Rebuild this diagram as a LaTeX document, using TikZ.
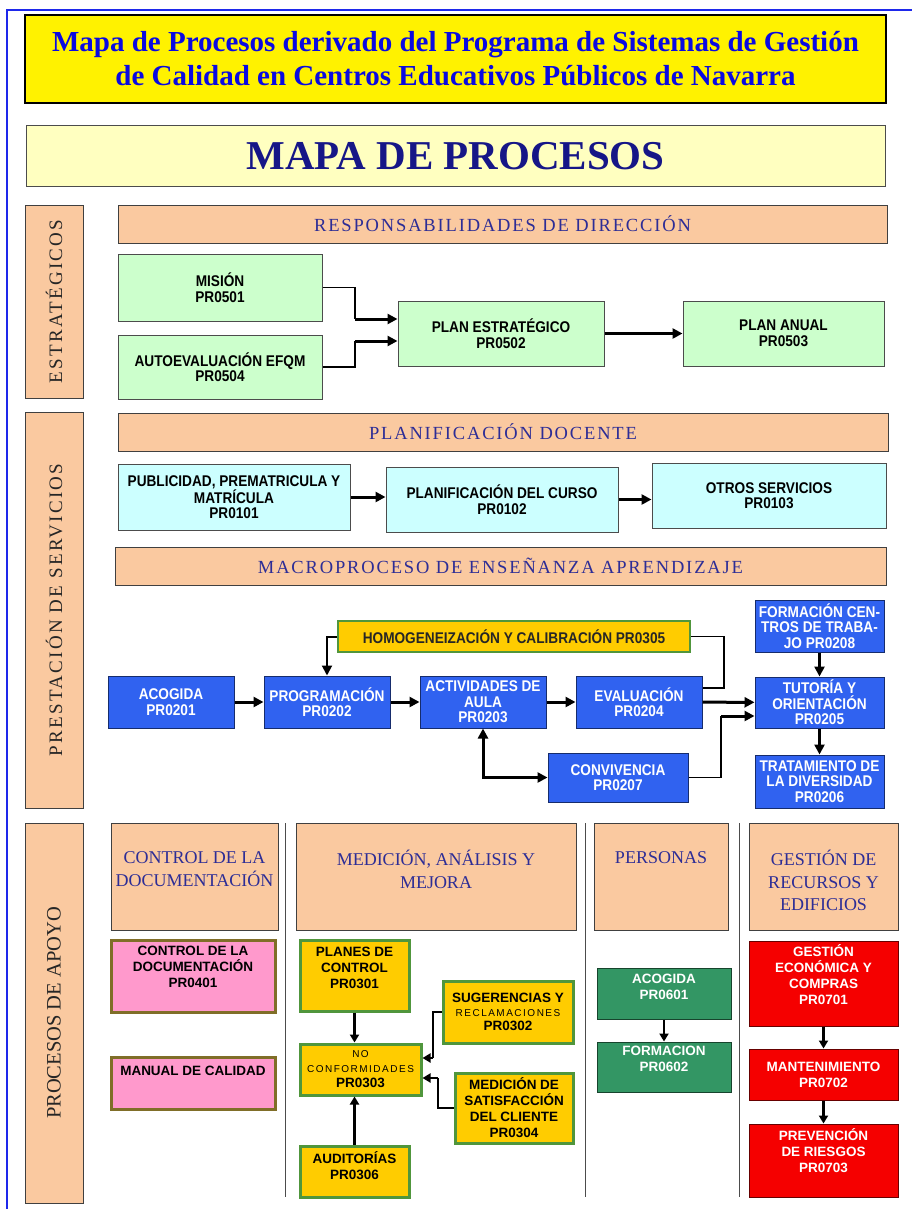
\documentclass[tikz,border=0pt]{standalone}
\usepackage{fontspec}
\setmainfont{Liberation Serif}
\newfontfamily\boxfont[FakeStretch=0.88]{Liberation Sans}
\newfontfamily\lowfont{Liberation Sans}
\usetikzlibrary{arrows.meta}

\definecolor{frameblue}{RGB}{30,40,235}
\definecolor{titleblue}{RGB}{10,10,225}
\definecolor{navy}{RGB}{22,22,135}
\definecolor{bandtext}{RGB}{45,45,150}
\definecolor{peachfill}{RGB}{250,201,160}
\definecolor{lightyel}{RGB}{255,255,192}
\definecolor{lgreen}{RGB}{204,255,204}
\definecolor{lcyan}{RGB}{204,255,255}
\definecolor{procblue}{RGB}{48,98,240}
\definecolor{gold}{RGB}{255,204,0}
\definecolor{goldedge}{RGB}{80,150,60}
\definecolor{pinkfill}{RGB}{255,153,204}
\definecolor{pinkedge}{RGB}{128,110,40}
\definecolor{teamgreen}{RGB}{51,150,100}
\definecolor{redfill}{RGB}{245,0,0}

\newcommand{\litetxt}[1]{{\lowfont\mdseries\fontsize{10}{12}\selectfont\addfontfeature{LetterSpace=15}#1}}

\begin{document}
\begin{tikzpicture}[x=1pt, y=-1pt,
	sz/.style 2 args={minimum width=#1pt, minimum height=#2pt},
	box/.style={draw, inner sep=0pt, align=center, line width=1pt},
	peach/.style={box, fill=peachfill, draw=black!75},
	band/.style={peach, text=bandtext, font={\fontsize{18.5}{20}\selectfont\addfontfeature{LetterSpace=10}}},
	side/.style={peach, rotate=90, text=black!85},
	head/.style={text=bandtext, align=center, inner sep=0pt, font={\fontsize{18}{22.5}\selectfont}},
	narrow/.style={font={\boxfont\bfseries\fontsize{15.5}{15.5}\selectfont}},
	wide/.style={font={\lowfont\bfseries\fontsize{13.5}{16}\selectfont}},
	inbox/.style={wide, align=center, inner sep=0pt},
	greenbox/.style={box, narrow, fill=lgreen, draw=black!70},
	cyanbox/.style={box, narrow, fill=lcyan, draw=black!70},
	bluebox/.style={box, narrow, fill=procblue, draw=procblue!45!black, text=white},
	goldbox/.style={box, wide, fill=gold, draw=goldedge, line width=3pt},
	pinkbox/.style={box, fill=pinkfill, draw=pinkedge, line width=3pt},
	teambox/.style={box, wide, fill=teamgreen, draw=teamgreen!45!black, text=white},
	redbox/.style={box, wide, fill=redfill, draw=red!40!black, text=white},
	wire/.style={line width=1.2pt},
	thk/.style={line width=3pt, -{Triangle[length=10pt,width=10pt]}},
	med/.style={line width=2.2pt, -{Triangle[length=8pt,width=9pt]}},
	]
	\useasboundingbox (0,0) rectangle (912,1209);
	\draw[frameblue, line width=2pt] (7,10) rectangle (930,1230);

	\node[draw, line width=2pt, fill=yellow, sz={861}{88}, align=center, text=titleblue, font={\bfseries\fontsize{29}{34}\selectfont}] (title) at (455.5,59)
		{Mapa de Procesos derivado del Programa de Sistemas de Gestión\\de Calidad en Centros Educativos Públicos de Navarra};
	\node[box, fill=lightyel, draw=black!70, sz={859}{61}, text=navy, font={\bfseries\fontsize{41}{44}\selectfont}] (mapa) at (455.5,156.5) {MAPA DE PROCESOS};

	\node[side, sz={193}{58}, font={\fontsize{19}{20}\selectfont\addfontfeature{LetterSpace=12}}] (estr) at (54,301.5) {ESTRATÉGICOS};
	\node[side, sz={396}{58}, font={\fontsize{19}{20}\selectfont\addfontfeature{LetterSpace=12}}] (presta) at (54,610) {PRESTACIÓN DE SERVICIOS};
	\node[side, sz={380}{58}, font={\fontsize{20.5}{22}\selectfont}] (apoyo) at (54,1013) {PROCESOS DE APOYO};

	\node[band, sz={769}{38}] (resp) at (502.5,224) {RESPONSABILIDADES DE DIRECCIÓN};
	\node[band, sz={770}{38}] (docente) at (503,432) {PLANIFICACIÓN DOCENTE};
	\node[band, sz={771}{38}] (macro) at (500.5,566) {MACROPROCESO DE ENSEÑANZA APRENDIZAJE};

	\node[greenbox, sz={204}{67}] (mision) at (220,287.5) {MISIÓN\\PR0501};
	\node[greenbox, sz={204}{64}] (autoev) at (220,367) {AUTOEVALUACIÓN EFQM\\PR0504};
	\node[greenbox, sz={206}{65}] (plan) at (501,333.5) {PLAN ESTRATÉGICO\\PR0502};
	\node[greenbox, sz={201}{65}] (anual) at (783.5,333.5) {PLAN ANUAL\\PR0503};
	\path (355,319) coordinate (m) (355,341) coordinate (a);
	\draw[wire] (mision.east) -| (m);
	\draw[wire] (autoev.east) -| (a);
	\draw[thk] (m) -- (m -| plan.west);
	\draw[thk] (a) -- (a -| plan.west);
	\draw[thk] (plan) -- (anual);

	\node[cyanbox, sz={232}{66}] (publi) at (234,497) {PUBLICIDAD, PREMATRICULA Y\\MATRÍCULA\\PR0101};
	\node[cyanbox, sz={232}{65}] (curso) at (502,499.5) {PLANIFICACIÓN DEL CURSO\\PR0102};
	\node[cyanbox, sz={234}{65}] (otros) at (769,495.5) {OTROS SERVICIOS\\PR0103};
	\draw[thk] (publi.east) -- (publi.east -| curso.west);
	\draw[thk] (curso.east) -- (curso.east -| otros.west);

	\foreach \nm/\x/\txt in {acog/171/{ACOGIDA\\PR0201},prog/327/{PROGRAMACIÓN\\PR0202},activ/483/{ACTIVIDADES DE\\AULA\\PR0203},evalua/639/{EVALUACIÓN\\PR0204}}
		\node[bluebox, sz={126}{52}] (\nm) at (\x,702) {\txt};
	\node[bluebox, sz={129}{52}] (formac) at (819.5,626) {FORMACIÓN CEN-\\TROS DE TRABA-\\JO PR0208};
	\node[bluebox, sz={129}{51}] (tutoria) at (819.5,702.5) {TUTORÍA Y\\ORIENTACIÓN\\PR0205};
	\node[bluebox, sz={129}{53}] (tratam) at (819.5,781.5) {TRATAMIENTO DE\\LA DIVERSIDAD\\PR0206};
	\node[bluebox, sz={140}{49}] (conviv) at (618,777.5) {CONVIVENCIA\\PR0207};
	\node[goldbox, narrow, line width=2pt, sz={352}{31}, text=black!85] (homog) at (514,636.5) {HOMOGENEIZACIÓN Y CALIBRACIÓN PR0305};
	\foreach \a/\b in {acog/prog,prog/activ,activ/evalua,evalua/tutoria,formac/tutoria,tutoria/tratam}
		\draw[thk] (\a) -- (\b);
	\draw[line width=2pt, -{Triangle[length=10pt,width=10pt]}] (homog.west) -| (prog.north);
	\path (724,688) coordinate (e) (721,716) coordinate (c);
	\draw[wire] (homog.east) -| (e) -- (e -| evalua.east);
	\draw[wire] (conviv.east) -| (c);
	\draw[thk] (c) -- (c -| tutoria.west);
	\draw[line width=3pt, {Triangle[length=10pt,width=10pt]}-{Triangle[length=10pt,width=10pt]}] (activ.south) |- (conviv.west);

	\foreach \nm/\x/\w/\ty/\txt in {ctrl/194.5/167/869/{CONTROL DE LA\\DOCUMENTACIÓN},medic/436/280/869.5/{MEDICIÓN, ANÁLISIS Y\\MEJORA},pers/661/134/858/{PERSONAS},gest/823.5/149/880.5/{GESTIÓN DE\\RECURSOS Y\\EDIFICIOS}}{
		\node[peach, sz={\w}{107}] (\nm) at (\x,876.5) {};
		\node[head] (\nm-t) at (\x,\ty) {\txt};
	}
	\foreach \x in {285,585,739}
		\draw[black!70, line width=1pt] (\x,823) -- (\x,1197);

	\node[pinkbox, sz={164}{72}] (ctrldoc) at (193,976) {};
	\node[inbox] (ctrldoc-t) at (193,967) {CONTROL DE LA\\DOCUMENTACIÓN\\PR0401};
	\node[pinkbox, sz={164}{52}] (manual) at (193,1083) {};
	\node[inbox] (manual-t) at (193,1071) {MANUAL DE CALIDAD};

	\node[goldbox, sz={109}{71}] (planes) at (354.5,975.5) {};
	\node[inbox] (planes-t) at (354.5,968) {PLANES DE\\CONTROL\\PR0301};
	\node[goldbox, sz={121}{51}, font={\lowfont\bfseries\fontsize{13.5}{15}\selectfont}] (noconf) at (360.5,1069.5) {\litetxt{NO}\\\litetxt{CONFORMIDADES}\\PR0303};
	\node[goldbox, sz={109}{51}] (audit) at (354.5,1171.5) {};
	\node[inbox] (audit-t) at (354.5,1166) {AUDITORÍAS\\PR0306};
	\node[goldbox, sz={130}{62}, font={\lowfont\bfseries\fontsize{13.5}{14}\selectfont}] (suger) at (508,1012) {SUGERENCIAS Y\\\litetxt{RECLAMACIONES}\\PR0302};
	\node[goldbox, sz={118}{70}] (medsat) at (514,1108) {MEDICIÓN DE\\SATISFACCIÓN\\DEL CLIENTE\\PR0304};
	\draw[med] (planes.south) -- (planes.south |- noconf.north);
	\draw[med] (audit.north) -- (audit.north |- noconf.south);
	\path (433,1058) coordinate (s) (438,1078) coordinate (t);
	\draw[wire] (suger.west) -| (s);
	\draw[med] (s) -- (s -| noconf.east);
	\draw[wire] (medsat.west) -| (t);
	\draw[med] (t) -- (t -| noconf.east);

	\node[teambox, sz={134}{51}] (acog6) at (664,993.5) {};
	\node[inbox, text=white] (acog6-t) at (664,987) {ACOGIDA\\PR0601};
	\node[teambox, sz={134}{50}] (form6) at (664,1067) {};
	\node[inbox, text=white] (form6-t) at (664,1059) {FORMACION\\PR0602};
	\draw[med] (acog6) -- (form6);

	\node[redbox, sz={149}{85}] (gestec) at (823.5,983.5) {};
	\node[inbox, text=white] (gestec-t) at (823.5,975) {GESTIÓN\\ECONÓMICA Y\\COMPRAS\\PR0701};
	\node[redbox, sz={149}{51}] (mant) at (823.5,1074.5) {MANTENIMIENTO\\PR0702};
	\node[redbox, sz={149}{73}] (prev) at (823.5,1160.5) {};
	\node[inbox, text=white] (prev-t) at (823.5,1151) {PREVENCIÓN\\DE RIESGOS\\PR0703};
	\draw[med] (gestec) -- (mant);
	\draw[med] (mant) -- (prev);
\end{tikzpicture}
\end{document}
